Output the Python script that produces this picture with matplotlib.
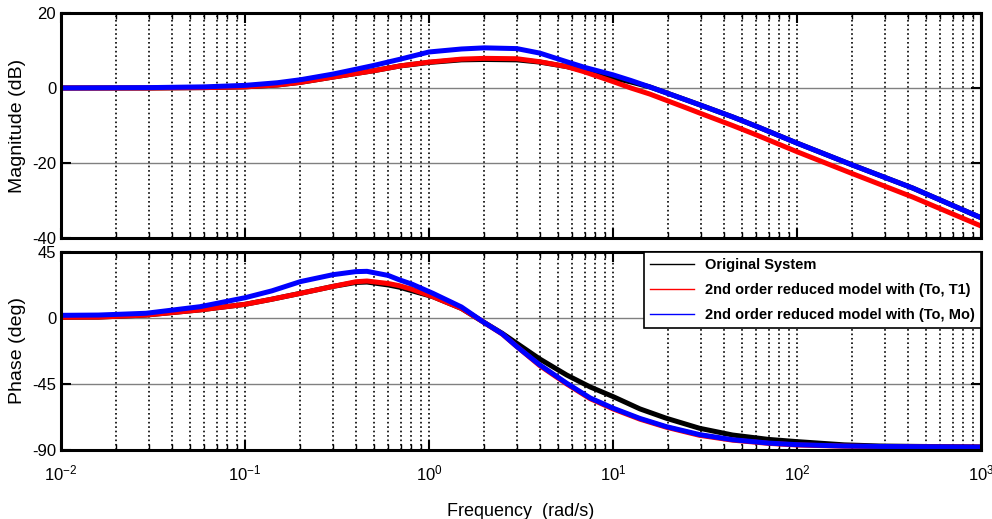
import matplotlib
matplotlib.use('Agg')
import matplotlib.pyplot as plt
from matplotlib.ticker import LogLocator, NullFormatter, FixedLocator

# values
mag_w = [0.01, 0.03, 0.06, 0.1, 0.15, 0.2, 0.3, 0.5, 0.7, 1.0, 1.5, 2.0, 3.0, 4.0,
         5.6, 7.0, 10, 12.5, 15.8, 19.5, 25, 30, 44.6, 60, 100, 199, 426, 1000]
mag_orig = [0, 0, 0.1, 0.3, 0.8, 1.5, 2.9, 4.6, 5.9, 6.8, 7.5, 7.6, 7.5, 6.9,
            5.7, 4.6, 2.7, 1.6, 0.3, -1.3, -3.2, -4.6, -7.7, -10.2, -14.7, -20.5, -26.7, -34.6]
mag_t1 = [0, 0, 0.1, 0.3, 0.8, 1.5, 2.9, 4.6, 5.9, 6.9, 7.7, 7.9, 7.8, 7.0,
          5.7, 4.3, 1.7, 0.0, -1.6, -3.3, -5.3, -6.8, -10.0, -12.5, -17.0, -22.8, -29.1, -36.8]
mag_mo = [0, 0.1, 0.3, 0.7, 1.4, 2.2, 3.7, 6.0, 7.7, 9.6, 10.4, 10.7, 10.5, 9.3,
          7.0, 5.5, 3.5, 2.0, 0.3, -1.3, -3.2, -4.6, -7.7, -10.2, -14.7, -20.5, -26.7, -34.6]

ph_w = [0.01, 0.016, 0.029, 0.057, 0.1, 0.14, 0.2, 0.3, 0.4, 0.46, 0.6, 0.69, 0.81,
        1.05, 1.5, 1.96, 2.5, 3.0, 4.0, 5.6, 7.5, 10, 14, 19.5, 29.5, 44.6, 70, 100,
        180, 280, 1000]
ph_orig = [0.5, 0.6, 2.0, 5.5, 9.3, 12.8, 16.8, 21.5, 24.2, 24.5, 22.5, 21.0, 18.5,
           14.5, 6.5, -2.5, -10.5, -17.3, -28.0, -38.9, -47.0, -53.6, -62.0, -68.4,
           -75.2, -79.8, -82.8, -84.3, -86.5, -87.3, -88.0]
ph_t1 = [0.5, 0.6, 2.0, 5.5, 9.3, 12.8, 16.8, 21.5, 24.7, 25.2, 23.5, 22.0, 19.5,
         14.5, 6.5, -2.5, -11.0, -19.5, -32.5, -45.0, -55.0, -62.0, -69.0, -74.5,
         -80.0, -83.3, -85.5, -86.6, -87.4, -87.7, -88.0]
ph_mo = [1.8, 2.0, 3.2, 7.7, 13.8, 18.5, 24.8, 29.5, 31.6, 31.8, 29.0, 26.0, 23.0,
         16.8, 7.5, -2.5, -10.8, -19.5, -32.0, -44.5, -54.5, -61.5, -68.5, -74.1,
         -79.5, -83.0, -85.3, -86.4, -87.3, -87.6, -88.0]

labels = ['Original System', '2nd order reduced model with (To, T1)',
          '2nd order reduced model with (To, Mo)']
colors = ['black', 'red', 'blue']

plt.rcParams['font.family'] = ['Liberation Sans', 'DejaVu Sans']
plt.rcParams['mathtext.default'] = 'regular'
plt.rcParams['axes.unicode_minus'] = False

fig = plt.figure(figsize=(9.92, 5.19), dpi=100)
ax1 = fig.add_axes([0.0615, 0.5414, 0.9275, 0.4336])
ax2 = fig.add_axes([0.0615, 0.133, 0.9275, 0.3815])


def style_axis(ax, yticks, ylim):
    ax.set_xscale('log')
    ax.set_xlim(1e-2, 1e3)
    ax.set_ylim(*ylim)
    ax.yaxis.set_major_locator(FixedLocator(yticks))
    ax.xaxis.set_major_locator(LogLocator(base=10, numticks=10))
    ax.xaxis.set_minor_locator(LogLocator(base=10, subs=range(2, 10), numticks=100))
    ax.xaxis.set_minor_formatter(NullFormatter())
    ax.tick_params(which='both', direction='in', top=True, right=True, labelsize=12)
    ax.tick_params(which='major', length=7, width=1.5)
    ax.tick_params(which='minor', length=4, width=1)
    ax.grid(True, which='both', axis='x', color='black', linestyle=':', linewidth=1.2)
    ax.grid(True, which='major', axis='y', color='gray', linestyle='-', linewidth=1)
    for s in ax.spines.values():
        s.set_linewidth(2.2)


style_axis(ax1, [-40, -20, 0, 20], (-40, 20))
style_axis(ax2, [-90, -45, 0, 45], (-90, 45))

for y, c, l in zip([mag_orig, mag_t1, mag_mo], colors, labels):
    ax1.plot(mag_w, y, color=c, linewidth=3.6, label=l, solid_joinstyle='round')
for y, c, l in zip([ph_orig, ph_t1, ph_mo], colors, labels):
    ax2.plot(ph_w, y, color=c, linewidth=3.6, solid_joinstyle='round')

ax1.tick_params(axis='x', labelbottom=False)
ax1.set_ylabel('Magnitude (dB)', fontsize=14, labelpad=4)
ax2.set_ylabel('Phase (deg)', fontsize=14, labelpad=4)
ax2.set_xlabel('Frequency  (rad/s)', fontsize=13, labelpad=14)
ax2.tick_params(axis='x', pad=10)

handles = [plt.Line2D([], [], color=c, linewidth=1) for c in colors]
leg = ax2.legend(handles, labels, loc='upper right', borderaxespad=0,
                 prop={'weight': 'bold', 'size': 10.5}, fancybox=False,
                 edgecolor='black', framealpha=1, handlelength=3, labelspacing=0.75)
leg.get_frame().set_linewidth(1.2)

fig.savefig('out.png', dpi=100)
